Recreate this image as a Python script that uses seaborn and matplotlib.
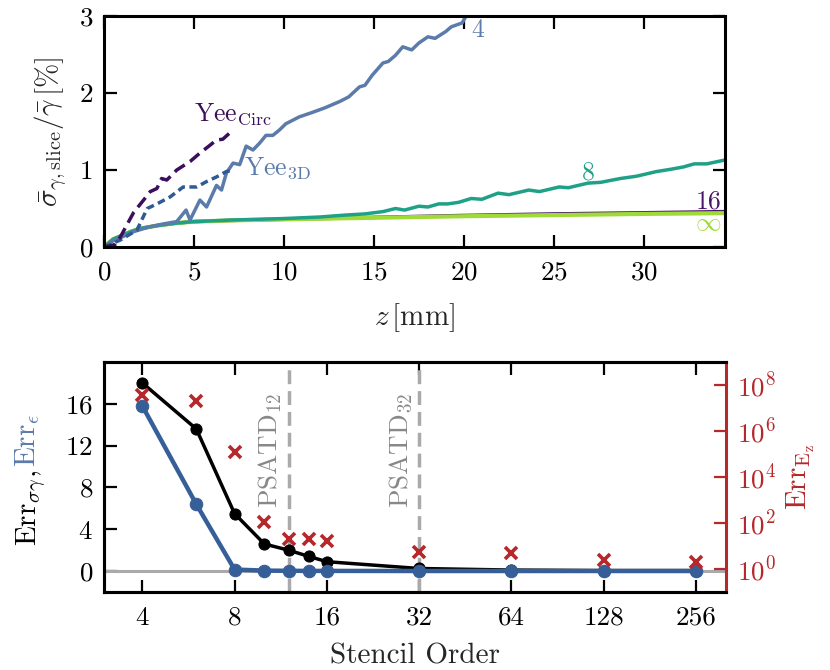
import numpy as np
import pandas as pd
import matplotlib
matplotlib.use("Agg")
import matplotlib.pyplot as plt
import matplotlib.ticker as mticker
import seaborn as sns

# top panel: relative slice energy spread vs. propagation distance
z_4 = [0, 0.5, 1.0, 1.65, 2.5, 3.3, 4.04, 4.56, 4.78, 5.33, 5.7, 6.25, 6.53, 6.8, 7.17, 7.54,
       7.9, 8.28, 8.65, 9.0, 9.38, 9.75, 10.1, 10.85, 11.6, 12.3, 13.1, 13.6, 14.2, 14.5,
       14.9, 15.5, 15.8, 16.2, 16.6, 17.1, 17.5, 18.0, 18.4, 19.0, 19.3, 19.9, 20.1, 20.6]
s_4 = [0, 0.08, 0.13, 0.2, 0.26, 0.3, 0.33, 0.48, 0.35, 0.61, 0.52, 0.80, 0.74, 0.96, 1.09, 1.07,
       1.31, 1.26, 1.35, 1.45, 1.45, 1.52, 1.60, 1.69, 1.75, 1.81, 1.89, 1.95, 2.08, 2.10,
       2.23, 2.39, 2.41, 2.49, 2.60, 2.56, 2.65, 2.73, 2.71, 2.80, 2.86, 2.91, 2.99, 3.1]

z_8 = [0, 0.5, 1, 1.5, 2, 3, 4, 5, 7, 10, 12, 13.4, 14.5, 15.5, 16.2, 16.7, 17.5, 18.0, 18.6,
       19.1, 19.7, 20.4, 21.0, 21.9, 22.5, 23.6, 24.2, 25.3, 25.8, 26.9, 27.6, 28.7, 29.6,
       30.7, 31.5, 32.2, 32.8, 33.5, 34.5]
s_8 = [0, 0.1, 0.15, 0.2, 0.24, 0.28, 0.31, 0.33, 0.35, 0.37, 0.39, 0.415, 0.43, 0.46, 0.50,
       0.48, 0.53, 0.52, 0.56, 0.56, 0.58, 0.63, 0.62, 0.70, 0.68, 0.74, 0.72, 0.78, 0.77,
       0.83, 0.84, 0.89, 0.92, 0.98, 1.01, 1.04, 1.08, 1.08, 1.13]

z_hi = [0, 0.5, 1, 1.5, 2, 3, 4, 5, 7, 10, 15, 20, 25, 30, 34.5]
s_16 = [0, 0.1, 0.15, 0.2, 0.24, 0.28, 0.31, 0.33, 0.345, 0.36, 0.385, 0.41, 0.43, 0.445, 0.46]
s_inf = [0, 0.1, 0.15, 0.2, 0.24, 0.28, 0.31, 0.33, 0.345, 0.36, 0.38, 0.40, 0.415, 0.43, 0.44]

z_circ = [0, 0.6, 0.91, 1.3, 1.65, 2.2, 2.57, 2.94, 3.2, 3.49, 4.04, 4.78, 5.33, 5.88, 6.25, 6.6, 7.17]
s_circ = [0, 0.03, 0.13, 0.3, 0.45, 0.61, 0.72, 0.76, 0.89, 0.87, 1.00, 1.11, 1.22, 1.32, 1.39, 1.40, 1.52]

z_3d = [0, 0.9, 1.83, 2.4, 2.94, 3.67, 4.4, 5.15, 5.7, 6.25, 6.8, 7.17]
s_3d = [0, 0.09, 0.22, 0.50, 0.56, 0.65, 0.78, 0.78, 0.85, 0.91, 0.98, 1.0]

# bottom panel: errors vs. stencil order
orders = [4, 6, 8, 10, 12, 14, 16, 32, 64, 128, 256]
err_sigma = [18.0, 13.6, 5.5, 2.6, 2.0, 1.4, 0.9, 0.25, 0.1, 0.05, 0.05]
err_eps = [15.8, 6.4, 0.15, 0.05, 0.03, 0.02, 0.02, 0.01, 0.01, 0.01, 0.01]
err_ez = [3.7e7, 2.0e7, 1.2e5, 112, 20, 20, 16.6, 5.6, 5.2, 2.45, 1.95]
psatd_orders = [12, 32]
order_ticks = [4, 8, 16, 32, 64, 128, 256]

c4 = '#5b7bab'
c8 = '#1fa187'
c16 = '#481567'
cinf = '#a0da39'
ccirc = '#3b0f5c'
c3d = '#2e5b93'
cblue = '#365f99'
cred = '#b5282b'
cgray = '#aaaaaa'

TICK_FS = 19.5
LABEL_FS = 21
NOTE_FS = 18.5

sns.set_theme(style='ticks')
plt.rcParams['font.family'] = ['cmr10', 'DejaVu Serif']
plt.rcParams['mathtext.fontset'] = 'cm'
plt.rcParams['axes.formatter.use_mathtext'] = True
plt.rcParams['axes.unicode_minus'] = False
plt.rcParams['font.size'] = TICK_FS
plt.rcParams['axes.linewidth'] = 2.2
plt.rcParams['axes.edgecolor'] = 'black'
for ax_ in ['x', 'y']:
    plt.rcParams[f'{ax_}tick.direction'] = 'in'
    plt.rcParams[f'{ax_}tick.major.size'] = 9
    plt.rcParams[f'{ax_}tick.major.width'] = 1.6
    plt.rcParams[f'{ax_}tick.labelsize'] = TICK_FS
    plt.rcParams[f'{ax_}tick.color'] = 'black'
plt.rcParams['xtick.major.pad'] = 10
plt.rcParams['ytick.major.pad'] = 8

fig = plt.figure(figsize=(8.3, 6.7), dpi=100)
ax1 = fig.add_axes([0.1253, 0.6313, 0.748, 0.3448])
ax2 = fig.add_axes([0.1253, 0.1164, 0.749, 0.3433])

# ---- top ----
lw = 2.5
sns.lineplot(x=z_hi, y=s_16, ax=ax1, color=c16, lw=lw)
sns.lineplot(x=z_hi, y=s_inf, ax=ax1, color=cinf, lw=3.0)
sns.lineplot(x=z_8, y=s_8, ax=ax1, color=c8, lw=lw)
sns.lineplot(x=z_4, y=s_4, ax=ax1, color=c4, lw=lw)
sns.lineplot(x=z_3d, y=s_3d, ax=ax1, color=c3d, lw=lw)
ax1.lines[-1].set_dashes((2.2, 1.3))
sns.lineplot(x=z_circ, y=s_circ, ax=ax1, color=ccirc, lw=lw)
ax1.lines[-1].set_dashes((3.5, 1.8))

ax1.text(5.0, 1.72, r'Yee$_{\mathrm{Circ}}$', color=ccirc, fontsize=NOTE_FS, ha='left', va='center')
ax1.text(7.8, 1.02, r'Yee$_{\mathrm{3D}}$', color=c4, fontsize=NOTE_FS, ha='left', va='center')
ax1.text(20.4, 2.82, '4', color=c4, fontsize=NOTE_FS, ha='left', va='center')
ax1.text(26.9, 0.97, '8', color=c8, fontsize=NOTE_FS, ha='center', va='center')
ax1.text(34.3, 0.59, '16', color=c16, fontsize=NOTE_FS, ha='right', va='center')
ax1.text(34.3, 0.31, r'$\infty$', color=cinf, fontsize=NOTE_FS, ha='right', va='center')

ax1.set_xlim(0, 34.5)
ax1.set_ylim(0, 3)
ax1.set_xticks([0, 5, 10, 15, 20, 25, 30])
ax1.set_yticks([0, 1, 2, 3])
ax1.tick_params(top=True, right=True)
ax1.set_xlabel(r'$z\,[\mathrm{mm}]$', fontsize=LABEL_FS, labelpad=12)
ax1.set_ylabel(r'$\bar{\sigma}_{\gamma,\mathrm{slice}}/\bar{\gamma}\,[\%]$', fontsize=LABEL_FS, labelpad=6)

# ---- bottom ----
ax2.set_xscale('log', base=2)
ax2.axhline(0, color=cgray, lw=2.2, zorder=1)
for o in psatd_orders:
    ax2.axvline(o, color=cgray, lw=2.5, ls=(0, (4, 2)), zorder=1)
    ax2.text(o * 0.965, 6.0, rf'PSATD$_{{{o}}}$', rotation=90, color='#888888',
             fontsize=19.5, ha='right', va='bottom')

df = pd.DataFrame({'order': orders, 'sigma': err_sigma, 'eps': err_eps, 'ez': err_ez})
sns.lineplot(data=df, x='order', y='sigma', ax=ax2, color='black', lw=2.5,
             marker='o', ms=8, mec='black', zorder=3)
sns.lineplot(data=df, x='order', y='eps', ax=ax2, color=cblue, lw=3.2,
             marker='o', ms=9, mec=cblue, zorder=4)

ax2.set_xlim(3, 320)
ax2.set_ylim(-2, 20)
ax2.set_xticks(order_ticks)
ax2.xaxis.set_major_formatter(mticker.FixedFormatter([str(t) for t in order_ticks]))
ax2.xaxis.set_minor_locator(mticker.NullLocator())
ax2.set_yticks([0, 4, 8, 12, 16])
ax2.tick_params(top=True, right=False)
ax2.set_xlabel('Stencil Order', fontsize=LABEL_FS, labelpad=10)
ax2.set_ylabel('')

ax2.text(-0.145, 0.53, r'Err$_{\sigma\gamma}$,', color='black', rotation=90, fontsize=LABEL_FS,
         ha='left', va='top', transform=ax2.transAxes)
ax2.text(-0.145, 0.545, r'Err$_{\epsilon}$', color=c4, rotation=90, fontsize=LABEL_FS,
         ha='left', va='bottom', transform=ax2.transAxes)

ax3 = ax2.twinx()
ax3.set_yscale('log')
sns.lineplot(data=df, x='order', y='ez', ax=ax3, color=cred, linestyle='none',
             marker='x', ms=8, mew=2.6, mec=cred, zorder=5)
ax3.set_ylim(1e-1, 1e9)
ax3.set_yticks([1e0, 1e2, 1e4, 1e6, 1e8])
ax3.yaxis.set_minor_locator(mticker.NullLocator())
ax3.tick_params(axis='y', colors=cred, direction='in', length=9, width=1.6, pad=8,
                labelsize=TICK_FS)
ax3.spines['right'].set_color(cred)
ax3.spines['right'].set_linewidth(2.2)
ax3.set_ylabel(r'Err$_{\mathrm{E_z}}$', color=cred, fontsize=LABEL_FS, labelpad=6)
ax2.spines['right'].set_visible(False)

fig.savefig('out.png', dpi=100)
